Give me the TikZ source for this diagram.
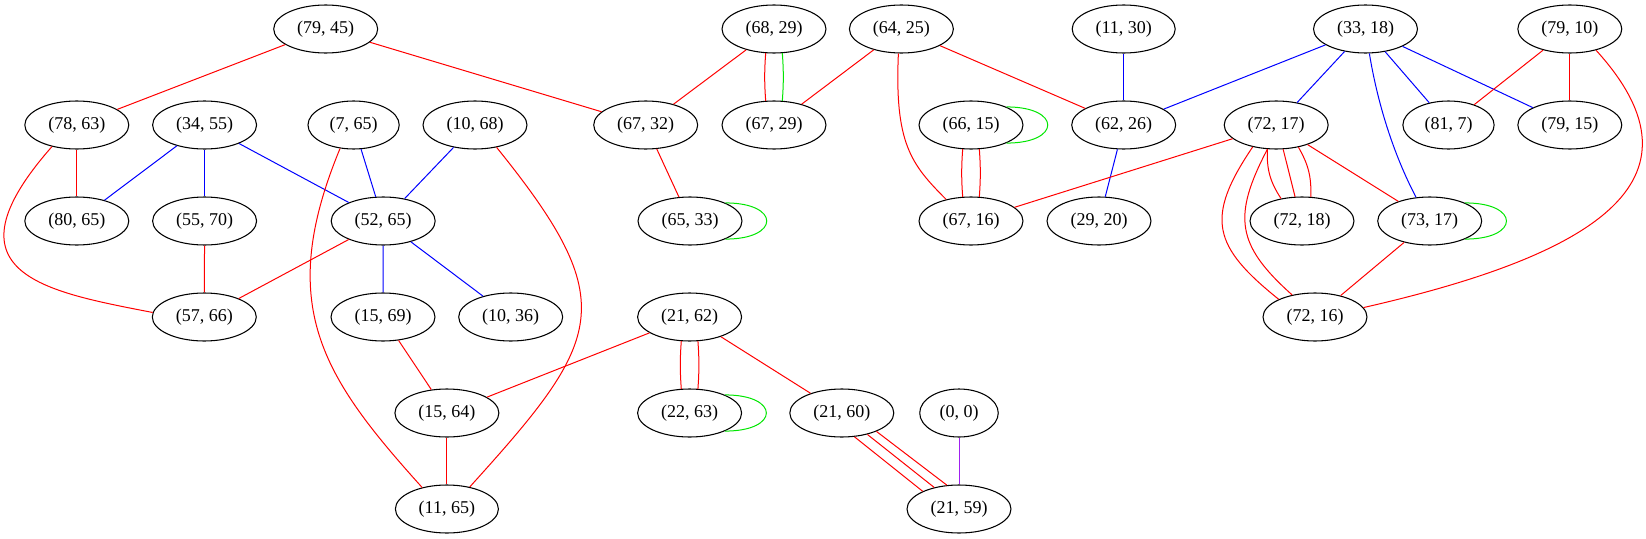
\documentclass[tikz,border=0pt]{standalone}
\usepackage{fontspec}
\setmainfont{Liberation Serif}
\usepackage{xcolor}
\definecolor{gvPurple}{RGB}{160,32,240}
\definecolor{gvGreen}{RGB}{0,230,0}
\usetikzlibrary{shapes.geometric}

\begin{document}
\begin{tikzpicture}[x=0.75pt,y=-0.75pt,
  nd/.style={draw,ellipse,line width=0.8pt,inner xsep=6.2pt,inner ysep=0pt,minimum height=36pt,font=\fontsize{13.5}{16}\selectfont},
  er/.style={draw=red,line width=0.75pt},
  eb/.style={draw=blue,line width=0.75pt},
  eg/.style={draw=gvGreen,line width=0.75pt},
  ep/.style={draw=gvPurple,line width=0.75pt}]
  \path[use as bounding box] (0,0) rectangle (1646,539);
  % rank 1
  \node[nd] (p79x45) at (325.7,29) {(79, 45)};
  \node[nd] (p68x29) at (774,29) {(68, 29)};
  \node[nd] (p64x25) at (901.4,29) {(64, 25)};
  \node[nd] (p11x30) at (1123.7,29) {(11, 30)};
  \node[nd] (p33x18) at (1365.5,29) {(33, 18)};
  \node[nd] (p79x10) at (1569.8,29) {(79, 10)};
  % rank 2
  \node[nd] (p78x63) at (76.8,125) {(78, 63)};
  \node[nd] (p34x55) at (204.6,125) {(34, 55)};
  \node[nd] (p7x65) at (353.6,125) {(7, 65)};
  \node[nd] (p10x68) at (475,125) {(10, 68)};
  \node[nd] (p67x32) at (645.7,125) {(67, 32)};
  \node[nd] (p67x29) at (774,125) {(67, 29)};
  \node[nd] (p66x15) at (971,125) {(66, 15)};
  \node[nd] (p62x26) at (1123.7,125) {(62, 26)};
  \node[nd] (p72x17) at (1276.2,125) {(72, 17)};
  \node[nd] (p81x7) at (1448.5,125) {(81, 7)};
  \node[nd] (p79x15) at (1569.8,125) {(79, 15)};
  % rank 3
  \node[nd] (p80x65) at (76.8,221) {(80, 65)};
  \node[nd] (p55x70) at (204.6,221) {(55, 70)};
  \node[nd] (p52x65) at (383.2,221) {(52, 65)};
  \node[nd] (p65x33) at (690,221) {(65, 33)};
  \node[nd] (p67x16) at (971,221) {(67, 16)};
  \node[nd] (p29x20) at (1099,221) {(29, 20)};
  \node[nd] (p72x18) at (1302,221) {(72, 18)};
  \node[nd] (p73x17) at (1429.7,221) {(73, 17)};
  % rank 4
  \node[nd] (p57x66) at (204.3,317) {(57, 66)};
  \node[nd] (p15x69) at (383,317) {(15, 69)};
  \node[nd] (p10x36) at (510.7,317) {(10, 36)};
  \node[nd] (p21x62) at (689.6,317) {(21, 62)};
  \node[nd] (p72x16) at (1315,317) {(72, 16)};
  % rank 5
  \node[nd] (p15x64) at (446.9,413) {(15, 64)};
  \node[nd] (p22x63) at (689.6,413) {(22, 63)};
  \node[nd] (p21x60) at (841.8,413) {(21, 60)};
  \node[nd] (p0x0) at (959,413) {(0, 0)};
  % rank 6
  \node[nd] (p11x65) at (446.9,509) {(11, 65)};
  \node[nd] (p21x59) at (959,509) {(21, 59)};

  \draw[er] (p79x45) -- (p78x63);
  \draw[er] (p79x45) -- (p67x32);
  \draw[er] (p78x63) -- (p80x65);
  \draw[er] (p78x63.221) .. controls +(-112,127) and +(-108,-21) .. (p57x66.175);
  \draw[eb] (p34x55) -- (p80x65);
  \draw[eb] (p34x55) -- (p55x70);
  \draw[eb] (p34x55) -- (p52x65);
  \draw[eb] (p7x65) -- (p52x65);
  \draw[er] (p7x65.240) .. controls +(-65,157) and +(-100,-111) .. (p11x65.139);
  \draw[eb] (p10x68) -- (p52x65);
  \draw[er] (p10x68.314) .. controls +(126,156) and +(134,-148) .. (p11x65.44);
  \draw[er] (p55x70) -- (p57x66);
  \draw[er] (p52x65) -- (p57x66);
  \draw[eb] (p52x65) -- (p15x69);
  \draw[eb] (p52x65) -- (p10x36);
  \draw[er] (p15x69) -- (p15x64);
  \draw[er] (p15x64) -- (p11x65);
  \draw[er] (p21x62) -- (p15x64);
  \draw[er] (p21x62.251) to[bend right=4] (p22x63.109);
  \draw[er] (p21x62.289) to[bend left=4] (p22x63.71);
  \draw[er] (p21x62) -- (p21x60);
  \draw[eg] (p22x63.27) .. controls +(55,0) and +(55,0) .. (p22x63.333);
  \draw[er] (p21x60.298) -- (p21x59.154);
  \draw[er] (p21x60.320) -- (p21x59.139);
  \draw[er] (p21x60.332) -- (p21x59.117);
  \draw[ep] (p0x0) -- (p21x59);
  \draw[er] (p68x29) -- (p67x32);
  \draw[er] (p68x29.251) to[bend right=4] (p67x29.109);
  \draw[eg] (p68x29.289) to[bend left=4] (p67x29.71);
  \draw[er] (p64x25) -- (p67x29);
  \draw[er] (p64x25.263) .. controls +(-4,90) and +(-35,-35) .. (p67x16.139);
  \draw[er] (p64x25) -- (p62x26);
  \draw[er] (p67x32) -- (p65x33);
  \draw[eg] (p65x33.27) .. controls +(55,0) and +(55,0) .. (p65x33.333);
  \draw[eg] (p66x15.27) .. controls +(55,0) and +(55,0) .. (p66x15.333);
  \draw[er] (p66x15.251) to[bend right=4] (p67x16.109);
  \draw[er] (p66x15.289) to[bend left=4] (p67x16.71);
  \draw[eb] (p11x30) -- (p62x26);
  \draw[eb] (p62x26) -- (p29x20);
  \draw[eb] (p33x18) -- (p62x26);
  \draw[eb] (p33x18) -- (p72x17);
  \draw[eb] (p33x18.279) .. controls +(8,49) and +(-23,-44) .. (p73x17.120);
  \draw[eb] (p33x18) -- (p81x7);
  \draw[eb] (p33x18) -- (p79x15);
  \draw[er] (p79x10) -- (p81x7);
  \draw[er] (p79x10) -- (p79x15);
  \draw[er] (p79x10.321) .. controls +(121,133) and +(224,-51) .. (p72x16.11);
  \draw[er] (p72x17) -- (p67x16);
  \draw[er] (p72x17.250) to[bend right=18] (p72x18.133);
  \draw[er] (p72x17.286) -- (p72x18.106);
  \draw[er] (p72x17.315) to[bend left=16] (p72x18.70);
  \draw[er] (p72x17) -- (p73x17);
  \draw[er] (p72x17.223) .. controls +(-48,71) and +(-66,-53) .. (p72x16.154);
  \draw[er] (p72x17.250) .. controls +(-35,67) and +(-56,-50) .. (p72x16.136);
  \draw[eg] (p73x17.27) .. controls +(55,0) and +(55,0) .. (p73x17.333);
  \draw[er] (p73x17) -- (p72x16);
\end{tikzpicture}
\end{document}
